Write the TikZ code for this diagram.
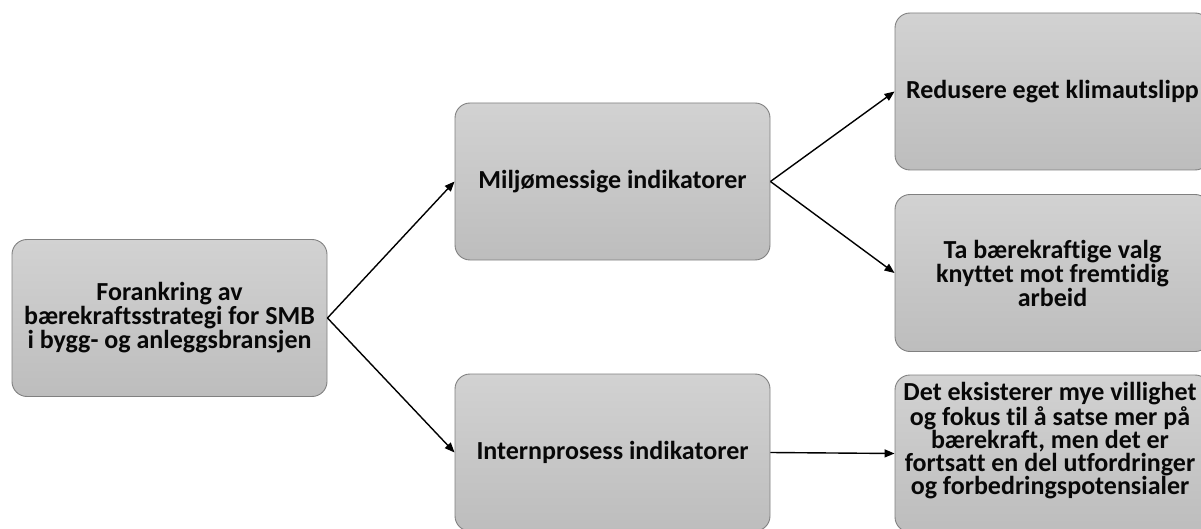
\documentclass[tikz,border=0pt]{standalone}
\usepackage{fontspec}
\setmainfont{Carlito}[Ligatures=NoCommon]
\usetikzlibrary{arrows.meta}
\definecolor{boxtop}{RGB}{210,210,210}
\definecolor{boxbot}{RGB}{189,189,189}
\definecolor{boxline}{RGB}{128,128,128}
\definecolor{ink}{RGB}{8,8,8}
\tikzset{
  card/.style={draw=boxline, line width=0.9pt, rounded corners=15pt,
    top color=boxtop, bottom color=boxbot,
    minimum width=315pt, minimum height=157pt, inner sep=0pt,
    align=center, text=ink,
    font=\bfseries\fontsize{26}{24}\selectfont},
  cardtext/.style={inner sep=0pt, align=center, text=ink,
    font=\bfseries\fontsize{26}{22.5}\selectfont},
  link/.style={draw=black, line width=1.4pt,
    -{Triangle[length=10pt,width=8pt]}}
}
\begin{document}
\begin{tikzpicture}[x=1pt,y=-1pt]
\useasboundingbox (0,0) rectangle (1201,529);
\node[card] (root) at (169.5,318) {Forankring av\\bærekraftsstrategi for SMB\\i bygg- og anleggsbransjen};
\node[card] (miljo) at (612.5,181.5) {Miljømessige indikatorer};
\node[card] (intern) at (612.5,452.5) {Internprosess indikatorer};
\node[card] (redus) at (1052.5,91.5) {Redusere eget klimautslipp};
\node[card] (valg) at (1052.5,273) {Ta bærekraftige valg\\knyttet mot fremtidig\\arbeid};
% the long text sits high in its box and runs past the bottom edge of the page
\node[card] (vilje) at (1052.5,453.5) {};
\node[cardtext] (viljetext) at (1050,441)
  {Det eksisterer mye villighet\\og fokus til å satse mer på\\bærekraft, men det er\\fortsatt en del utfordringer\\og forbedringspotensialer};
\draw[link] (root.east) -- (miljo.west);
\draw[link] (root.east) -- (intern.west);
\draw[link] (miljo.east) -- (redus.west);
\draw[link] (miljo.east) -- (valg.west);
\draw[link] (intern.east) -- (vilje.west);
\end{tikzpicture}
\end{document}
